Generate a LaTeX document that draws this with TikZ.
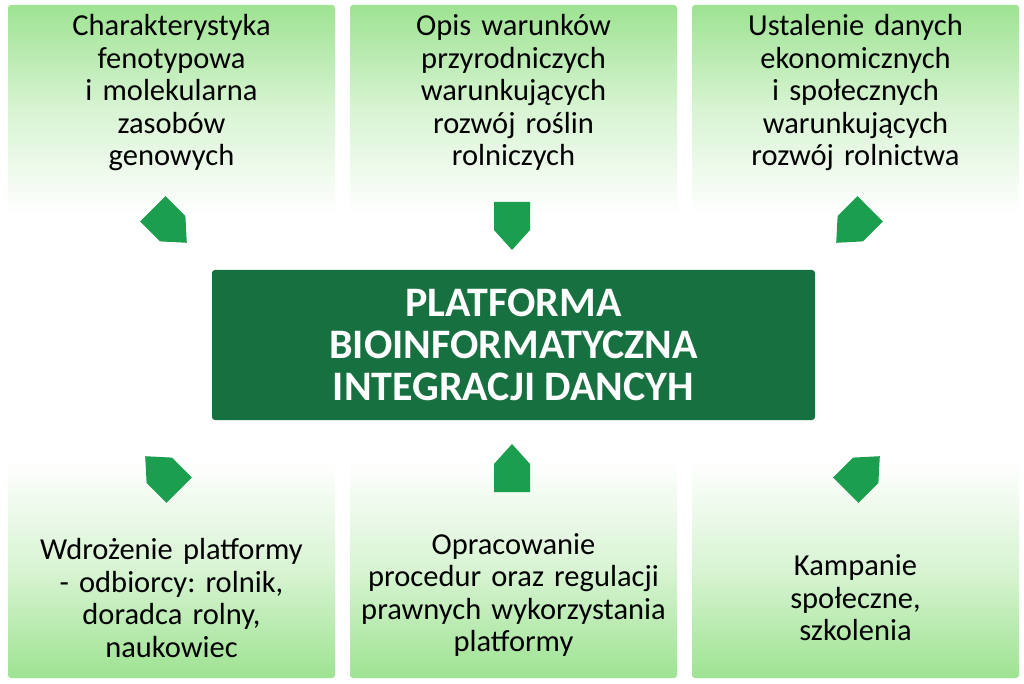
\documentclass[tikz,border=0pt]{standalone}
\usepackage{fontspec}
\setmainfont{Carlito}
\frenchspacing
\definecolor{boxgreen}{HTML}{9EE392}
\definecolor{darkgreen}{HTML}{17703F}
\definecolor{arrowgreen}{HTML}{1B9E4D}
\tikzset{
  topbox/.style={rounded corners=3pt,top color=boxgreen,bottom color=white,middle color=boxgreen!40},
  botbox/.style={rounded corners=3pt,bottom color=boxgreen,top color=white,middle color=boxgreen!40},
  boxtext/.style={align=center,font=\fontsize{30.5}{32.5}\selectfont,text width=320pt},
  pointer/.pic={\fill[arrowgreen] (-18,20) -- (18,20) -- (18,-8) -- (0,-28) -- (-18,-8) -- cycle;}
}
\begin{document}
\begin{tikzpicture}[x=1pt,y=1pt]
\useasboundingbox (0,0) rectangle (1024,683);
\fill[white] (0,0) rectangle (1024,683);
% upper row
\shade[topbox] (8,468) rectangle (335,678);
\shade[topbox] (350,468) rectangle (677,678);
\shade[topbox] (692,468) rectangle (1019,678);
% lower row
\shade[botbox] (8,5) rectangle (335,223);
\shade[botbox] (350,5) rectangle (677,223);
\shade[botbox] (692,5) rectangle (1019,223);
% centre
\node[fill=darkgreen,rounded corners=3pt,minimum width=603pt,minimum height=150pt,
  text=white,align=center,font=\fontsize{42}{42}\selectfont\bfseries] (core) at (513.5,338)
  {PLATFORMA\\BIOINFORMATYCZNA\\INTEGRACJI DANCYH};
\node[boxtext,anchor=north] (t1) at (171.5,672) {Charakterystyka\\fenotypowa\\i molekularna\\zasobów\\genowych};
\node[boxtext,anchor=north] (t2) at (513.5,672) {Opis warunków\\przyrodniczych\\warunkujących\\rozwój roślin\\rolniczych};
\node[boxtext,anchor=north] (t3) at (855.5,672) {Ustalenie danych\\ekonomicznych\\i społecznych\\warunkujących\\rozwój rolnictwa};
\node[boxtext] (b1) at (171.5,85) {Wdrożenie platformy\\- odbiorcy: rolnik,\\doradca rolny,\\naukowiec};
\node[boxtext] (b2) at (513.5,88) {Opracowanie\\procedur oraz regulacji\\prawnych wykorzystania\\platformy};
\node[boxtext] (b3) at (855.5,85) {Kampanie\\społeczne,\\szkolenia};
% pointers
\pic[rotate=45] at (167,460) {pointer};
\pic at (512,461) {pointer};
\pic[rotate=-45] at (856,460) {pointer};
\pic[rotate=225] at (165,207) {pointer};
\pic[rotate=180] at (512,211) {pointer};
\pic[rotate=135] at (860,207) {pointer};
\end{tikzpicture}
\end{document}
